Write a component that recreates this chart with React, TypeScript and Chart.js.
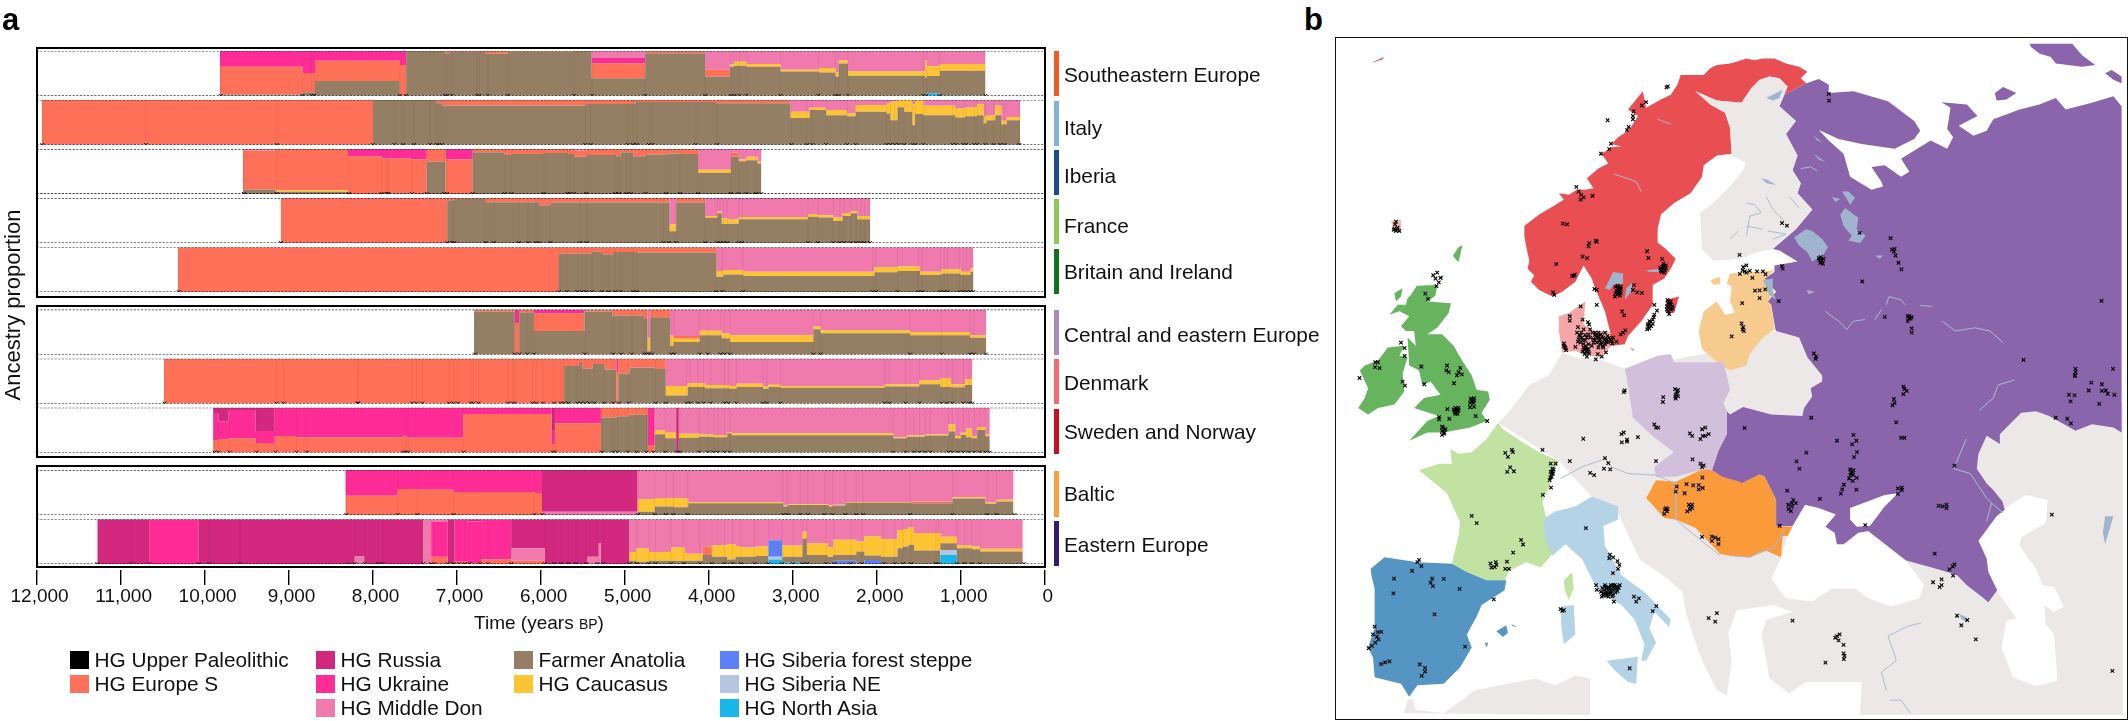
import React, { useEffect, useRef } from "react";
import { Chart, registerables } from "chart.js";

Chart.register(...registerables);

// ---------- ancestry legend ----------
const LEGEND_COLUMNS: [string, string][][] = [
  [["HG Upper Paleolithic", "#000000"], ["HG Europe S", "#FF7058"]],
  [["HG Russia", "#D2287F"], ["HG Ukraine", "#FF2C98"], ["HG Middle Don", "#F07AAE"]],
  [["Farmer Anatolia", "#947F64"], ["HG Caucasus", "#FFC433"]],
  [["HG Siberia forest steppe", "#5B80F8"], ["HG Siberia NE", "#B5C6E0"], ["HG North Asia", "#19B6EE"]],
];

// column of each tuple below: start year BP, then these proportions
const TUPLE_COLUMNS = ["farmer", "caucasus", "europeS", "ukraine", "don", "russia", "sibFS", "sibNE", "nAsia"];
// stacking from bottom to top
const STACK_ORDER: [string, string][] = [
  ["nAsia", "#19B6EE"],
  ["sibNE", "#B5C6E0"],
  ["sibFS", "#5B80F8"],
  ["farmer", "#947F64"],
  ["caucasus", "#FFC433"],
  ["europeS", "#FF7058"],
  ["ukraine", "#FF2C98"],
  ["don", "#F07AAE"],
  ["russia", "#D2287F"],
];

// ---------- ancestry per region: [year BP, farmer, caucasus, europeS, ukraine, don, russia, sibFS, sibNE, nAsia] ----------
const seEurope = [
  [9820, .03, 0, .62, .35], [8835, .08, 0, .43, .49], [8686, .33, 0, .45, .22], [7676, 0, 0, .69, .31], [7601, 1],
  [7144, .95, 0, .05], [7080, .98, 0, .02], [6654, .94, 0, .06], [6388, .985, 0, .015], [5606, 1],
  [5393, .39, 0, .33, .13, .15], [4755, .95, 0, .05], [4041, .43, 0, .16, 0, .41], [3747, .65, .05, 0, 0, .30],
  [3694, .67, .09, 0, 0, .24], [3550, .65, .06, 0, 0, .29], [3145, .54, .04, 0, 0, .42], [2687, .52, .10, 0, 0, .38],
  [2491, .43, .10, 0, 0, .47], [2452, .72, .07, 0, 0, .21], [2341, .45, .09, 0, 0, .46], [1425, .40, .40, 0, 0, .20],
  [1406, .38, .22, 0, 0, .34, 0, 0, 0, .06], [1249, .55, .15, 0, 0, .29, 0, 0, 0, .01], [706],
];
const italy = [
  [11937, 0, 0, 1], [7995, 1], [7239, .93, 0, .07], [7176, .88, 0, .12], [5460, .91, 0, .09], [4871, .955, 0, .045],
  [3910, .93, 0, .07], [3027, .60, .14, 0, 0, .26], [2799, .78, .05, 0, 0, .17], [2602, .66, .12, 0, 0, .22],
  [2354, .64, .06, 0, 0, .30], [2249, .74, .15, 0, 0, .11], [1883, .70, .22, 0, 0, .08], [1837, .55, .41, 0, 0, .04],
  [1752, .84, .16], [1674, .74, .26], [1576, .44, .46, 0, 0, .10], [1543, .69, .31], [1445, .66, .21, 0, 0, .13],
  [1066, .61, .20, 0, 0, .19], [949, .64, .20, 0, 0, .16], [804, .66, .25, 0, 0, .09], [726, .48, .15, 0, 0, .37],
  [693, .55, .11, 0, 0, .34], [588, .66, .21, 0, 0, .13], [516, .46, .08, 0, 0, .46], [451, .55, .07, 0, 0, .38], [294],
];
const iberia = [
  [9543, .10, 0, .86, 0, .04], [9155, .05, .03, .92], [8293, 0, 0, .84, .16], [7894, .01, 0, .78, .21], [7543, 0, 0, .77, .23],
  [7356, .72, 0, .28], [7133, 0, 0, .77, .23], [6808, .93, 0, .07], [6431, .87, 0, .13], [6346, .89, 0, .11],
  [5963, .91, 0, .09], [5670, .89, 0, .11], [5601, .83, 0, .13, 0, .04], [5457, .87, 0, .13], [5101, .84, 0, .16],
  [5047, .93, 0, .07], [4899, .84, 0, .16], [4750, .88, 0, .12], [4500, .90, 0, .10], [4335, .89, 0, .11],
  [4126, .47, .07, 0, 0, .46], [3734, .83, 0, .09, 0, .08], [3642, .73, .04, 0, 0, .23], [3550, .75, .08, 0, 0, .17],
  [3420, .68, .04, 0, 0, .28], [3374],
];
const france = [
  [9091, 0, 0, .985, .015], [7112, .95, 0, .05], [7026, .98, 0, .02], [6654, .91, 0, .09], [6016, .84, 0, .16],
  [5883, .90, 0, .10], [4466, .26, .15, 0, 0, .59], [4387, .90, 0, .10], [4041, .56, .04, 0, 0, .40], [3897, .66, .04, 0, 0, .30],
  [3845, .42, .13, 0, 0, .45], [3779, .43, .10, 0, 0, .47], [3642, .53, .05, 0, 0, .42], [2818, .585, .06, 0, 0, .355],
  [2700, .57, .05, 0, 0, .38], [2517, .49, .08, 0, 0, .43], [2406, .60, .07, 0, 0, .33], [2308, .66, .05, 0, 0, .29],
  [2230, .53, .07, 0, 0, .40], [2079],
];
const britain = [
  [10320, 0, 0, 1], [5782, .86, 0, .14], [5388, .90, 0, .10], [5271, .84, 0, .16], [5138, .89, 0, .11], [4856, .88, 0, .12],
  [3910, .34, .13, 0, 0, .53], [3825, .39, .10, 0, 0, .51], [3590, .355, .095, 0, 0, .55], [2027, .44, .11, 0, 0, .45],
  [1752, .47, .10, 0, 0, .43], [1484, .38, .07, 0, 0, .55], [1229, .415, .09, 0, 0, .495], [1000, .38, .07, 0, 0, .55],
  [883, .45, .08, 0, 0, .47], [850],
];
const centralEurope = [
  [6793, .955, 0, .045], [6308, 0, 0, .70, .30], [6255, .94, 0, .06], [6080, .52, 0, .395, .085], [5478, .955, 0, .045],
  [5148, .87, 0, .13], [4766, .79, 0, .21], [4728, .07, .30, 0, 0, .63], [4696, .83, 0, .17], [4459, .19, .23, 0, 0, .58],
  [4420, .28, .07, .06, 0, .59], [4106, .43, .10, 0, 0, .47], [3845, .36, .11, 0, 0, .53], [3747, .28, .15, 0, 0, .57],
  [2753, .56, .07, 0, 0, .37], [2668, .47, .07, 0, 0, .46], [1602, .43, .07, 0, 0, .50], [889, .37, .06, 0, 0, .57], [699],
];
const denmark = [
  [10485, 0, 0, 1], [5721, .835, 0, .165], [5545, .90, 0, .10], [5499, .78, 0, .22], [5381, .88, 0, .12], [5238, .76, 0, .24],
  [5100, 0, 0, .70, .30], [5074, .67, 0, .33], [4943, .80, 0, .20], [4642, .77, 0, .23], [4512, .18, .21, 0, 0, .61],
  [4250, .37, .08, 0, 0, .55], [4041, .34, .07, 0, 0, .59], [3747, .33, .06, 0, 0, .61], [3668, .37, .07, 0, 0, .56],
  [3354, .33, .05, 0, 0, .62], [3289, .37, .05, 0, 0, .58], [3145, .35, .04, 0, 0, .61], [1903, .38, .05, 0, 0, .57],
  [1491, .43, .09, 0, 0, .48], [1242, .37, .19, 0, 0, .44], [1118, .36, .07, 0, 0, .57], [948, .41, .13, 0, 0, .46], [863],
];
const swedenNorway = [
  [9899, 0, 0, .28, .60, 0, .12], [9836, 0, 0, .30, .39, 0, .31], [9713, 0, 0, .32, .63, 0, .05], [9394, 0, 0, .21, .27, 0, .52],
  [9165, 0, 0, .37, .63], [8915, 0, 0, .34, .66], [7638, 0, 0, .39, .61], [7601, 0, 0, .33, .67], [6920, 0, 0, .86, .14],
  [5872, 0, 0, .19, .31, 0, .50], [5830, 0, 0, .65, .35], [5282, .78, 0, .22], [5095, .81, 0, .19], [4952, .84, 0, .16],
  [4723, 0, 0, .17, .83], [4642, .41, .08, 0, 0, .51], [4518, .32, .12, 0, 0, .56], [4387, 0, 0, 0, 0, 0, 1],
  [4355, .33, .09, 0, 0, .58], [4119, .35, .05, 0, 0, .60], [3943, .34, .05, 0, 0, .61], [3779, .43, .03, 0, 0, .54],
  [3726, .385, .045, 0, 0, .57], [1804, .32, .02, 0, 0, .66], [1641, .35, .03, 0, 0, .62], [1425, .38, .02, 0, 0, .60],
  [1144, .47, .16, 0, 0, .37], [1066, .32, .04, 0, 0, .64], [1000, .39, .05, 0, 0, .56], [935, .34, .20, 0, 0, .46],
  [869, .32, .05, 0, 0, .63], [804, .50, .07, 0, 0, .43], [706, .36, .04, 0, 0, .60], [654],
];
const baltic = [
  [8325, 0, 0, .43, .57], [7702, 0, 0, .58, .42], [7468, 0, 0, .56, .44], [7037, 0, 0, .51, .49], [6074, 0, 0, .49, .51],
  [5984, 0, 0, 0, 0, .07, .93], [4845, .07, .28, 0, 0, .65], [4642, .19, .19, 0, 0, .62], [4414, .17, .20, 0, 0, .63],
  [4244, .26, .03, 0, 0, .71], [3112, .19, .02, 0, 0, .79], [3060, .22, .02, 0, 0, .76], [2570, .19, .02, 0, 0, .79],
  [2524, .21, .02, 0, 0, .77], [2373, .27, .02, 0, 0, .71], [1602, .26, 0, .04, 0, .70], [1098, .365, .03, 0, 0, .605],
  [706, .25, .03, 0, 0, .72], [575, .30, .04, 0, 0, .66], [372],
];
const easternEurope = [
  [11277, 0, 0, 0, 0, 0, 1], [10660, 0, 0, 0, 1], [10075, 0, 0, 0, 0, 0, 1], [8213, 0, 0, 0, 0, .17, .83], [8101, 0, 0, 0, 0, 0, 1],
  [7399, 0, 0, 0, 0, 1], [7303, 0, 0, .16, .79, .05], [7106, 0, 0, .02, 0, 0, .98], [7027, 0, 0, .05, .95],
  [6867, 0, 0, .02, .93, 0, .05], [6707, 0, 0, .10, .90], [6351, 0, 0, .07, 0, .28, .65], [5952, 0, 0, 0, 0, 0, 1],
  [5441, 0, 0, 0, 0, .16, .84], [5308, 0, 0, 0, 0, .46, .54], [5282, 0, 0, 0, 0, 0, 1], [4943, .07, .20, 0, 0, .73],
  [4858, .05, .30, 0, 0, .65], [4714, .07, .20, 0, 0, .73], [4446, .07, .30, 0, 0, .63], [4283, .07, .16, 0, 0, .77],
  [4074, .20, 0, .19, 0, .61], [3962, .16, .26, 0, 0, .58], [3779, .10, .34, 0, 0, .56], [3681, .16, .24, 0, 0, .60],
  [3616, .16, .21, 0, 0, .63], [3439, .18, .21, 0, 0, .61], [3289, 0, 0, 0, 0, .47, 0, .37, .06, .10],
  [3125, .13, .25, 0, 0, .59, 0, 0, 0, .03], [2883, .57, .15, 0, 0, .28], [2831, .20, .26, 0, 0, .54], [2583, .16, .21, 0, 0, .63],
  [2517, .13, .34, 0, 0, .46, 0, .07], [2243, .28, .22, 0, 0, .50], [2145, .10, .43, 0, 0, .38, 0, .09], [1948, .16, .39, 0, 0, .45],
  [1752, .35, .41, 0, 0, .24], [1687, .39, .39, 0, 0, .22], [1621, .43, .39, 0, 0, .18], [1556, .30, .39, 0, 0, .31],
  [1242, .15, .15, 0, 0, .39, 0, 0, .11, .20], [1046, .35, .06, 0, 0, .59], [869, .33, .06, 0, 0, .61], [771, .28, .06, 0, 0, .66], [261],
];

// ---------- dated samples per region (years BP) ----------
const seEuropeSamples = [9809, 8835, 8729, 8697, 7676, 7601, 7144, 7117, 7059, 6761, 6729, 6628, 6388, 5601, 5388, 4755, 4041, 3734, 3694, 3635, 3550, 3145, 2694, 2491, 2452, 2341, 1445, 1406, 1249, 706];
const italySamples = [11932, 10697, 9139, 7995, 7740, 7638, 7505, 7314, 7239, 7213, 7176, 5468, 5404, 4963, 4899, 4856, 4712, 4670, 4154, 3897, 3014, 2831, 2766, 2602, 2354, 2249, 1883, 1837, 1785, 1739, 1674, 1576, 1543, 1445, 1098, 1053, 968, 935, 837, 804, 706, 608, 529, 477, 301];
const iberiaSamples = [9532, 9144, 8282, 7894, 7835, 7814, 7532, 7356, 7149, 7117, 6808, 6425, 6346, 5963, 5681, 5654, 5601, 5457, 5112, 5069, 4978, 4925, 4750, 4505, 4340, 4126, 3734, 3642, 3550, 3439, 3374];
const franceSamples = [9091, 7112, 7053, 7026, 6654, 6558, 6260, 6149, 6058, 6016, 5883, 5526, 5452, 4537, 4473, 4393, 4041, 3897, 3864, 3825, 3779, 3642, 3603, 2818, 2700, 2517, 2439, 2386, 2308, 2243, 2190, 2145, 2079];
const britainSamples = [10309, 5782, 5686, 5564, 5510, 5457, 5388, 5271, 5191, 5111, 5047, 4899, 4856, 3910, 3838, 3590, 2046, 2007, 1752, 1504, 1458, 1242, 1196, 1157, 1013, 968, 928, 889, 850];
const centralEuropeSamples = [6782, 6308, 6255, 6159, 6080, 5473, 5138, 5042, 4914, 4766, 4739, 4712, 4675, 4446, 4409, 4106, 4008, 3858, 3812, 3747, 2753, 2668, 1602, 1229, 889, 843, 699];
const denmarkSamples = [10479, 9144, 9059, 8181, 8170, 7532, 7479, 7410, 7091, 7037, 6984, 6830, 6798, 6739, 6388, 6335, 6308, 6096, 6053, 5973, 5840, 5760, 5723, 5670, 5564, 5521, 5473, 5420, 5361, 5244, 5138, 5069, 4952, 4632, 4510, 4260, 4218, 4126, 4061, 3975, 3812, 3766, 3668, 3354, 3308, 3145, 1903, 1850, 1654, 1491, 1229, 1164, 1098, 968, 902, 863];
const swedenNorwaySamples = [9883, 9836, 9703, 9378, 9155, 8905, 8782, 7638, 7601, 7575, 6920, 5856, 5830, 5271, 5138, 5085, 4963, 4856, 4739, 4659, 4516, 4377, 4340, 4113, 4008, 3943, 3890, 3812, 3747, 1804, 1654, 1556, 1491, 1425, 1360, 1144, 1098, 1033, 968, 902, 837, 771, 706, 654];
const balticSamples = [8314, 7702, 7468, 7037, 6074, 5979, 4840, 4643, 4510, 4420, 4250, 3112, 3060, 2910, 2818, 2622, 2524, 2373, 2243, 2164, 1602, 1098, 686, 575, 359];
const easternEuropeSamples = [11277, 10873, 10655, 10070, 9942, 9580, 8293, 8213, 8091, 7931, 7878, 7399, 7303, 7266, 7106, 7037, 6973, 6904, 6846, 6718, 6628, 6351, 5952, 5840, 5760, 5670, 5580, 5457, 5324, 5255, 4941, 4856, 4712, 4632, 4446, 4298, 4106, 3962, 3812, 3714, 3616, 3452, 3289, 3125, 2995, 2883, 2831, 2602, 2504, 2308, 2177, 1916, 1785, 1687, 1589, 1295, 1262, 1046, 955, 869, 771, 248];

const REGIONS = [
  { name: "Southeastern Europe", color: "#F15A22", rows: seEurope, samples: seEuropeSamples },
  { name: "Italy", color: "#7FB3D8", rows: italy, samples: italySamples },
  { name: "Iberia", color: "#1D4A8F", rows: iberia, samples: iberiaSamples },
  { name: "France", color: "#8CC85A", rows: france, samples: franceSamples },
  { name: "Britain and Ireland", color: "#14701E", rows: britain, samples: britainSamples },
  { name: "Central and eastern Europe", color: "#A88BC0", rows: centralEurope, samples: centralEuropeSamples },
  { name: "Denmark", color: "#F56C70", rows: denmark, samples: denmarkSamples },
  { name: "Sweden and Norway", color: "#C8101E", rows: swedenNorway, samples: swedenNorwaySamples },
  { name: "Baltic", color: "#F8A03C", rows: baltic, samples: balticSamples },
  { name: "Eastern Europe", color: "#35196E", rows: easternEurope, samples: easternEuropeSamples },
];

// ---------- map shapes, in map units; tiles N/S and W/E offset by these ----------
type P = number[][];
const EAST = 1170;
const SOUTH = 1014;
const shift = (pts: P, dx: number, dy: number): P => pts.map(([x, y]) => [x + dx, y + dy]);
const NE = (p: P) => shift(p, EAST, 0);
const SW = (p: P) => shift(p, 0, SOUTH);
const SE = (p: P) => shift(p, EAST, SOUTH);

const LAND = "#ECE8E8";
const PURPLE = "#8A65AB";
const RED = "#E94E52";
const GREEN = "#66B45E";
const PALE_GREEN = "#C2E2A2";
const BLUE = "#5595C4";
const PALE_BLUE = "#B5D3E6";
const PEACH = "#F7CB8D";
const LAKE = "#A0B4CE";

const landMain: P = [[465,1159],[500,1124],[560,1044],[620,1014],[660,945],[700,960],[770,965],[850,995],[1090,950],[1230,900],[1310,880],[1380,900],[1405,960],[1460,1014],[1600,1100],[2364,1100],[2364,2049],[1565,2049],[1570,1949],[1400,1949],[1350,1984],[1290,1939],[1265,1804],[1280,1760],[1360,1735],[1300,1714],[1230,1725],[1190,1730],[1165,1800],[1175,1890],[1160,1990],[1130,1974],[1090,1894],[1060,1814],[1035,1734],[1025,1674],[980,1634],[895,1574],[850,1479],[830,1434],[750,1384],[650,1276]];
const landAfrica: P = SW([[180,1030],[190,990],[205,985],[215,1020],[300,1030],[395,960],[520,935],[580,925],[640,945],[700,915],[745,925],[745,1035]]);
const finland: P = [[1065,150],[1130,178],[1205,185],[1235,140],[1260,115],[1290,105],[1320,110],[1345,135],[1335,160],[1320,195],[1370,240],[1340,280],[1375,345],[1360,390],[1385,430],[1375,460],[1420,510],[1370,570],[1300,630],[1250,640],[1200,660],[1120,665],[1085,630],[1080,520],[1120,490],[1170,440],[1215,385],[1215,365],[1175,345],[1170,260],[1155,215],[1110,190]];
const blackSea: P = SE([[190,460],[228,395],[270,405],[322,425],[290,462],[318,480],[325,515],[345,515],[390,480],[420,475],[490,530],[535,565],[590,640],[575,680],[490,705],[420,680],[380,650],[310,650],[250,690],[170,680],[125,620],[155,555],[175,490]]);
const caspian: P = SE([[755,505],[810,430],[835,405],[900,365],[965,380],[960,450],[885,495],[880,520],[930,590],[950,640],[985,645],[1015,705],[985,722],[955,700],[960,760],[985,790],[995,930],[930,948],[860,920],[825,830],[840,750],[870,740],[810,655],[785,600],[780,545]]);
const azov: P = SE([[365,405],[470,365],[510,360],[470,400],[425,460],[385,462],[365,440]]);
const aegean: P = SE([[30,760],[60,800],[45,850],[70,900]]);
const purple: P = [[1402,125],[1440,112],[1470,130],[1470,155],[1545,150],[1650,180],[1730,240],[1748,270],[1730,295],[1670,325],[1570,310],[1500,295],[1440,268],[1470,300],[1515,340],[1525,375],[1535,410],[1600,450],[1635,440],[1630,425],[1600,380],[1640,375],[1690,410],[1715,395],[1690,355],[1730,330],[1780,300],[1830,325],[1848,290],[1830,265],[1840,200],[1812,183],[1890,190],[1922,225],[1865,255],[1910,285],[1950,270],[1970,235],[2050,205],[2110,190],[2160,170],[2190,205],[2270,185],[2335,165],[2360,195],[2360,1189],[2335,1174],[2270,1164],[2220,1184],[2185,1164],[2140,1139],[2100,1124],[2055,1129],[2020,1164],[1990,1194],[1990,1224],[1950,1199],[1925,1254],[1920,1299],[1950,1344],[1970,1364],[1998,1399],[2005,1424],[1980,1444],[1925,1519],[1950,1574],[1955,1614],[1982,1669],[1955,1706],[1935,1689],[1890,1654],[1860,1624],[1830,1614],[1780,1599],[1705,1579],[1660,1544],[1590,1489],[1560,1494],[1515,1529],[1495,1529],[1488,1494],[1460,1476],[1492,1439],[1440,1419],[1398,1409],[1360,1474],[1310,1474],[1310,1394],[1275,1324],[1260,1317],[1205,1344],[1170,1334],[1145,1324],[1115,1304],[1135,1244],[1160,1194],[1160,1124],[1170,1134],[1210,1111],[1295,1134],[1390,1139],[1395,1114],[1420,1079],[1415,1054],[1450,1034],[1450,1015],[1405,960],[1380,900],[1310,880],[1308,875],[1295,800],[1285,790],[1310,760],[1275,720],[1305,700],[1305,680],[1375,668],[1320,635],[1300,630],[1370,570],[1420,510],[1375,460],[1385,430],[1360,390],[1375,345],[1340,280],[1370,240],[1320,195],[1335,160]];
const purpleTop: P = NE([[910,5],[1040,5],[1070,40],[1110,70],[1070,75],[990,65],[975,45],[940,35],[915,15]]);
const purpleIsle: P = NE([[805,155],[830,137],[870,155],[840,175],[810,178]]);
const purpleCorner: P = NE([[1140,95],[1160,85],[1190,105],[1190,125],[1165,115]]);
const scandinavia: P = [[545,560],[590,525],[640,495],[665,480],[650,460],[680,465],[705,450],[730,450],[755,445],[735,415],[770,385],[800,370],[780,340],[810,320],[840,318],[810,310],[830,290],[860,270],[875,250],[890,225],[860,205],[905,150],[915,200],[960,175],[990,160],[1010,130],[1020,100],[1050,100],[1090,100],[1110,80],[1130,70],[1170,65],[1190,60],[1220,50],[1245,55],[1270,50],[1305,50],[1340,65],[1380,75],[1405,90],[1385,110],[1402,125],[1335,160],[1345,135],[1320,110],[1290,105],[1260,115],[1235,140],[1205,185],[1130,178],[1065,150],[1110,190],[1155,215],[1170,260],[1175,340],[1130,345],[1090,375],[1085,410],[1050,460],[1000,490],[960,525],[950,570],[950,610],[975,630],[1005,660],[990,690],[970,720],[935,740],[935,800],[900,850],[860,895],[850,920],[810,925],[805,880],[790,820],[760,750],[750,720],[725,680],[700,730],[660,760],[630,775],[590,755],[565,730],[575,710],[555,690],[560,665],[550,620],[545,590]];
const gotland: P = [[975,825],[975,785],[1015,775],[1000,825]];
const svalbard: P = [[82,62],[118,45],[115,52],[85,62]];
const faroe: P = [[140,545],[170,540],[170,580],[150,580]];
const denmarkLand: P = [[650,835],[680,825],[730,790],[725,860],[755,880],[800,880],[810,925],[775,960],[720,950],[700,940],[660,945],[650,880]];
const bornholm: P = [[865,930],[880,935],[875,942]];
const greatBritain: P = [[218,742],[280,740],[275,772],[252,790],[322,795],[315,825],[280,870],[250,890],[295,890],[330,925],[350,960],[385,1015],[400,1059],[435,1064],[440,1089],[415,1129],[430,1154],[380,1174],[300,1189],[250,1189],[195,1214],[250,1154],[285,1139],[210,1114],[240,1084],[290,1074],[260,1034],[235,1044],[225,1000],[195,985],[190,900],[215,925],[210,880],[185,880],[170,865],[195,835],[165,820],[185,800],[190,780],[200,770]];
const ireland: P = [[100,970],[130,930],[180,925],[165,955],[190,960],[175,1010],[180,1064],[150,1104],[100,1114],[70,1134],[40,1114],[60,1084],[70,1054],[45,1000],[60,985]];
const hebrides: P = [[150,765],[175,750],[170,775],[155,790]];
const skye: P = [[160,800],[185,800],[165,820],[135,830]];
const shetland: P = [[345,625],[357,618],[345,670],[335,660],[328,650]];
const orkney: P = [[285,715],[300,710],[295,725]];
const franceLand: P = SW([[465,145],[480,165],[540,205],[590,235],[650,262],[635,290],[625,330],[600,385],[610,430],[605,480],[635,540],[595,585],[550,570],[500,595],[485,625],[430,625],[370,600],[325,575],[345,490],[350,450],[310,360],[225,290],[285,270],[325,270],[320,225],[345,240],[385,235],[430,195]]);
const corsica: P = SW([[665,625],[690,600],[695,650],[680,685],[668,655]]);
const iberiaLand: P = SW([[78,590],[120,555],[220,570],[325,575],[370,600],[430,625],[490,625],[485,655],[415,700],[400,735],[370,790],[385,830],[350,890],[300,940],[220,945],[195,980],[170,940],[90,920],[85,860],[70,830],[90,770],[90,650],[80,610]]);
const mallorca: P = SW([[460,780],[490,762],[495,785],[480,798]]);
const menorca: P = SW([[505,758],[525,768],[510,765]]);
const ibiza: P = SW([[425,815],[435,815],[430,830]]);
const italyLand: P = SW([[605,435],[640,415],[700,400],[750,370],[830,400],[830,440],[785,460],[790,520],[840,610],[915,665],[990,745],[985,768],[940,720],[925,770],[945,815],[915,870],[900,870],[910,820],[880,745],[840,700],[770,660],[720,560],[670,515],[630,550],[605,490]]);
const sicily: P = SW([[795,870],[890,858],[885,940],[860,935],[820,900]]);
const sardinia: P = SW([[655,705],[695,700],[700,790],[665,820],[658,770]]);
const balticStates: P = [[1160,735],[1170,705],[1305,695],[1275,720],[1305,760],[1285,790],[1295,800],[1305,875],[1270,900],[1230,950],[1220,985],[1170,1000],[1130,975],[1085,935],[1075,880],[1090,820],[1130,790],[1155,830],[1185,825],[1170,790],[1175,745]];
const saaremaa: P = [[1110,725],[1140,715],[1140,735],[1120,740]];
const polandCzech: P = [[850,995],[950,955],[990,950],[1000,975],[1150,975],[1160,1014],[1170,1059],[1150,1099],[1160,1124],[1160,1194],[1135,1244],[1115,1304],[1085,1302],[1005,1324],[945,1324],[940,1294],[1000,1249],[940,1204],[875,1144],[855,1014]];
const hungaryRomania: P = [[915,1389],[945,1334],[1005,1339],[1085,1302],[1115,1304],[1145,1324],[1200,1339],[1205,1344],[1260,1317],[1275,1324],[1310,1394],[1310,1474],[1360,1476],[1345,1504],[1330,1504],[1325,1569],[1280,1549],[1230,1569],[1170,1564],[1140,1559],[1065,1479],[1005,1454],[970,1449],[925,1399]];
const ladoga: P = NE([[195,595],[230,570],[250,575],[280,600],[298,625],[285,645],[250,668],[235,640],[210,620]]);
const onega: P = NE([[335,525],[350,505],[390,535],[385,570],[412,590],[395,612],[360,605],[370,590],[345,560]]);
const lakeA: P = NE([[340,455],[360,455],[380,475],[365,495],[350,470]]);
const lakeB: P = NE([[310,472],[335,478],[320,487]]);
const lakeC: P = NE([[255,340],[290,365],[270,358]]);
const lakeD: P = NE([[255,285],[280,305],[265,300]]);
const lakeE: P = NE([[440,650],[465,650],[455,660]]);
const lakeF: P = NE([[232,755],[258,760],[240,768]]);
const peipus: P = NE([[100,725],[130,720],[130,760],[140,785],[120,770]]);
const inari: P = NE([[110,170],[160,145],[150,170],[130,178]]);
const saimaa: P = NE([[95,415],[115,420],[140,435],[110,430]]);
const vanern: P = [[790,750],[815,700],[845,705],[845,735],[815,740],[805,755]];
const vattern: P = [[850,785],[855,750],[875,730],[870,760]];
const malaren: P = [[915,695],[960,690],[980,700],[925,700]];
const sevan: P = SE([[695,728],[715,735],[722,752],[705,745]]);
const aral: P = SE([[1140,430],[1165,430],[1140,515],[1133,480]]);

const MAP_SHAPES: [P, string][] = [
  [landMain, LAND], [landAfrica, LAND], [finland, LAND], [blackSea, "#FFFFFF"], [caspian, "#FFFFFF"], [aegean, "#FFFFFF"],
  [aral, LAKE], [sevan, LAKE],
  [purple, PURPLE], [azov, "#FFFFFF"], [purpleTop, PURPLE], [purpleIsle, PURPLE], [purpleCorner, PURPLE],
  [scandinavia, RED], [finland, LAND], [gotland, RED], [svalbard, RED], [faroe, "#F7B5B5"],
  [denmarkLand, "#F6A6A6"], [bornholm, "#F6A6A6"],
  [greatBritain, GREEN], [ireland, GREEN], [hebrides, GREEN], [skye, GREEN], [shetland, GREEN], [orkney, GREEN],
  [franceLand, PALE_GREEN], [corsica, PALE_GREEN],
  [iberiaLand, BLUE], [mallorca, BLUE], [menorca, BLUE], [ibiza, BLUE],
  [italyLand, PALE_BLUE], [sicily, PALE_BLUE], [sardinia, PALE_BLUE],
  [balticStates, PEACH], [saaremaa, PEACH],
  [polandCzech, "#D2BFDC"],
  [hungaryRomania, "#FB9A3B"],
  [ladoga, LAKE], [onega, LAKE], [lakeA, LAKE], [lakeB, LAKE], [lakeC, LAKE], [lakeD, LAKE], [lakeE, LAKE], [lakeF, LAKE],
  [peipus, LAKE], [inari, LAKE], [saimaa, LAKE], [vanern, LAKE], [vattern, LAKE], [malaren, LAKE],
];

const MAP_RIVERS: P[] = [
  SW([[655,315],[720,280],[790,255],[810,280],[860,300],[945,305],[1005,330],[1005,440],[1065,490],[1140,550]]),
  SE([[0,550],[60,555],[110,530],[130,530],[165,470]]),
  SE([[865,15],[815,30],[800,70],[757,108]]),
  SE([[718,195],[680,285],[730,300],[780,375],[795,390],[780,445]]),
  SE([[795,390],[830,420]]),
  SE([[580,755],[540,765],[480,795],[500,850],[505,870],[460,905],[475,960]]),
  SE([[485,990],[520,990],[548,1030]]),
  NE([[290,820],[330,850],[355,875],[375,850],[410,845]]),
  NE([[440,845],[460,815]]),
  NE([[475,800],[483,775],[520,785],[532,800]]),
  NE([[578,802],[615,805]]),
  NE([[645,850],[685,880],[745,870],[790,880],[830,915]]),
  NE([[215,385],[245,380],[265,392]]),
  NE([[50,490],[75,495],[95,520],[60,530],[50,590]]),
  NE([[110,470],[130,510],[165,545]]),
  NE([[180,470],[210,505]]),
  NE([[50,560],[100,570]]),
  NE([[115,575],[170,585],[130,600]]),
  NE([[0,600],[25,575]]),
  [[818,402],[885,425],[900,455]],
  [[950,235],[990,250]],
];

const samplesNW: P = [
  [977,138],[981,135],[915,183],[902,193],[877,211],[875,225],[875,235],[798,238],[862,258],[857,268],[808,309],[803,326],[778,340],[703,441],[710,455],[718,465],[725,473],[716,480],[752,468],[662,553],[675,555],[762,605],[765,608],[742,612],[740,622],[722,653],[736,658],[642,676],[698,708],[690,712],[695,712],[632,762],[636,770],[758,752],[765,755],
  [918,637],[922,657],[964,660],[968,675],[975,680],[965,690],[960,695],[972,695],[965,685],[958,688],[968,682],[975,688],[962,700],[970,702],
  [822,745],[830,750],[838,745],[825,758],[835,760],[830,768],[820,775],[835,772],[878,740],[875,755],[888,762],[902,764],[828,742],[832,755],[822,765],[838,752],[828,762],[838,765],
  [765,800],[842,820],[848,832],[838,890],[852,878],[845,885],
  [940,800],[948,818],[940,830],[935,845],[925,850],[920,860],[930,865],[918,875],[925,872],[935,858],[930,852],[925,858],[938,838],[922,866],
  [980,785],[985,790],[990,800],[978,805],[990,815],[982,820],[995,805],[985,828],[982,795],[990,790],[985,808],[978,815],[996,812],[987,798],
  [716,805],[683,835],[683,848],[722,845],[738,853],[742,860],[708,868],[725,875],[705,885],[712,892],[720,900],[730,908],[740,890],[752,885],[760,892],[770,885],[778,890],[790,885],[798,895],[745,900],[755,905],[765,900],[775,905],[785,900],[795,905],[805,905],[815,900],[825,912],[812,918],[715,915],[725,920],[740,920],[750,925],[765,915],[780,915],[790,920],[800,915],[708,912],[700,928],[730,935],[738,945],[728,950],[735,958],[768,950],[780,958],[793,945],[762,966],[665,918],[668,928],[672,938],[710,905],[745,875],[755,915],[770,930],[785,930],[732,925],
  [768,895],[772,910],[780,898],[788,908],[775,920],[760,908],[783,925],[793,912],[803,900],[810,910],[718,885],[722,908],[735,900],[715,895],[730,892],[725,930],[735,935],[722,942],[740,935],[732,942],[742,948],[728,938],[665,925],[670,932],[760,885],[770,895],
  [155,547],[152,555],[150,568],[158,570],[165,575],[155,575],[148,572],[160,565],
  [268,710],[280,702],[290,718],[275,720],[285,732],[278,743],[244,766],[252,782],
  [170,915],[181,932],[181,956],[92,975],[100,975],[91,990],[105,993],[232,988],[310,985],[308,1000],[315,1005],[350,992],[345,1005],[340,1015],[355,1012],
];
const samplesSW: P = [
  [44,9],[175,20],[182,32],[241,28],[331,25],[385,75],[392,70],[380,85],[390,85],[392,97],[380,98],[311,104],[335,100],[345,100],[330,105],[340,110],[335,118],[342,118],[286,128],[286,135],[317,133],[397,125],[432,140],[295,157],[305,165],[295,170],[300,178],[295,182],
  [338,103],[333,112],[345,108],[340,103],[386,80],[382,72],[393,78],[298,160],[302,175],
  [487,237],[507,228],[510,235],[495,249],[502,281],[493,295],[513,293],[600,228],[625,270],[640,270],[630,285],[625,295],[632,300],[628,310],[622,320],[626,343],[601,365],[385,429],[400,451],[535,502],[541,516],[511,541],[442,574],[458,570],[460,578],[455,585],[445,586],[492,568],[487,590],[498,590],[634,288],[628,300],[624,312],[630,295],
  [225,563],[220,570],[232,582],[204,596],[149,620],[147,665],[265,620],[260,632],[267,643],[300,621],[348,651],[272,729],[90,766],[85,790],[100,783],[110,782],[97,797],[102,805],[92,815],[82,825],[72,832],[110,880],[122,875],[135,872],[227,881],[243,892],[243,903],[233,916],[452,683],[365,827],
  [655,713],[665,716],[660,718],
  [732,466],[805,547],[815,555],[803,558],[828,567],[834,578],[830,590],[814,603],[763,640],[765,654],[790,640],[800,645],[810,650],[795,660],[785,665],[780,675],[800,675],[815,670],[825,650],[835,640],[820,640],[795,650],[805,660],[878,675],[893,680],[885,690],[946,704],[935,719],[865,893],[817,690],
  [782,648],[788,655],[792,668],[800,655],[806,668],[812,660],[818,650],[822,662],[828,658],[832,648],[785,672],[795,672],[808,640],[815,640],[778,660],[790,645],[803,650],[826,644],[812,674],[798,664],
  [850,47],[847,52],[1003,43],[1010,50],[1005,60],[1012,65],[1005,72],[967,67],[966,82],[940,150],[945,160],[952,160],[1048,178],[1055,185],[1085,165],[1095,160],[1087,185],[1105,180],[1095,185],[1080,195],[847,175],[840,180],[841,205],[857,197],[857,203],[890,189],[724,194],[683,262],[945,262],[1056,257],[1080,270],[1085,280],[1090,275],[790,253],[800,268],[787,285],[806,287],[745,298],[757,305],[1008,56],[1004,66],[1012,45],
  [1086,312],[1038,332],[1058,336],[1075,335],[1087,344],[1075,348],[1008,340],[1005,355],[1032,360],[975,405],[978,415],[970,423],[1045,395],[1055,405],[1040,415],[1085,493],[1115,492],[1125,495],[1135,500],[1115,505],[1135,515],[1050,400],[1048,410],[1055,395],[972,410],[980,408],
  [1105,740],[1130,725],[1125,751],
];
const samplesNE: P = [
  [300,158],[301,178],[158,551],[173,559],[29,648],[394,581],[488,597],[492,632],[500,630],[498,638],[503,650],[512,672],[521,692],[402,729],[148,789],[1129,788],[470,837],[545,835],[548,842],[540,850],[552,872],[552,885],[892,968],[1164,995],[1050,995],[1050,1005],[1048,1015],[255,948],[262,958],[260,965],[275,655],[280,665],[272,665],[282,675],[158,682],[160,690],[275,672],[270,658],[284,660],[544,842],[552,838],[540,835],
  [30,706],[40,685],[38,695],[50,680],[50,702],[60,697],[68,718],[82,698],[100,698],[108,707],[76,757],[90,756],[107,753],[90,780],[37,795],[35,857],[40,868],[42,880],[5,896],[45,698],[38,875],
];
const samplesSE: P = [
  [1048,3],[1098,23],[1130,28],[1090,47],[1130,48],[1142,47],[1148,57],[1168,60],[1030,60],[1047,62],[1035,80],[1122,88],[527,35],[530,42],[537,48],[527,58],[498,73],[500,85],[494,92],[505,144],[247,130],[44,161],[990,130],[1025,133],[1036,147],[375,182],[520,191],[530,191],[325,200],[384,200],[371,211],[232,236],[386,235],[377,250],[202,263],[211,285],[682,276],[365,287],[375,290],[370,300],[362,315],[385,313],[373,322],[346,334],[341,348],[337,361],[384,349],[510,345],[522,350],[510,362],[174,352],[273,377],[192,380],[177,395],[188,400],[200,390],[178,408],[185,414],[634,398],[646,400],[658,395],[658,405],[411,457],[151,459],[622,544],[682,577],[677,583],[667,592],[678,611],[643,622],[617,631],[643,640],[637,646],[978,425],[690,733],[721,746],[703,762],[747,805],[190,748],[325,795],[333,790],[320,800],[330,808],[345,822],[345,848],[348,855],[346,865],[290,876],[1162,901],[368,296],[374,304],[366,305],[188,390],[522,343],
];
const mapSamples: P = [...samplesNW, ...SW(samplesSW), ...NE(samplesNE), ...SE(samplesSE)];

// ---------- layout ----------
const CHART_W = 1100;
const CHART_H = 650;
const FRAMES = [[47, 298], [305, 458], [465, 568]];
const ROW_WEIGHT = 44.8;
const GAP_WEIGHT = 4.2;
const PANEL_GAP_WEIGHT = 17.6;
const LABEL_Y = [75, 128, 176, 226, 272, 335, 383, 432, 494, 545];
const BAR_Y = [[51, 96], [101, 146], [150, 195], [199, 244], [249, 294], [310, 355], [359, 404], [409, 454], [471, 517], [521, 566]];
const FONT = "'Liberation Sans', Arial, sans-serif";

function buildRowDatasets(regionIndex: number) {
  const region = REGIONS[regionIndex];
  const yAxisID = `row${regionIndex}`;
  const datasets: any[] = [];
  const rows = region.rows.map((r: number[], i: number) => {
    const source = r.length > 1 ? r : region.rows[i - 1];
    const values = TUPLE_COLUMNS.map((_, c) => source[c + 1] || 0);
    const total = values.reduce((a, b) => a + b, 0);
    return { year: r[0], values: values.map((v) => v / total) };
  });
  let first = true;
  STACK_ORDER.forEach(([key, color]) => {
    const col = TUPLE_COLUMNS.indexOf(key);
    if (!rows.some((r: any) => r.values[col] > 0)) return;
    datasets.push({
      type: "line",
      label: `${region.name} ${key}`,
      yAxisID,
      stack: `ancestry${regionIndex}`,
      data: rows.map((r: any) => ({ x: r.year, y: r.values[col] })),
      stepped: "before",
      borderWidth: 0,
      pointRadius: 0,
      backgroundColor: color,
      borderColor: color,
      fill: first ? "origin" : "-1",
      order: 4,
    });
    first = false;
  });
  // faint vertical seams at each dated sample
  datasets.push({
    type: "line",
    yAxisID,
    data: region.samples.flatMap((t: number) => [{ x: t, y: 0 }, { x: t, y: 1 }, { x: t, y: null }]),
    borderColor: "rgba(90,50,60,0.12)",
    borderWidth: 0.8,
    pointRadius: 0,
    spanGaps: false,
    fill: false,
    order: 3,
  });
  [0, 1].forEach((edge) => {
    datasets.push({
      type: "line",
      yAxisID,
      data: [{ x: 12000, y: edge }, { x: 0, y: edge }],
      borderColor: edge ? "#333333" : "#000000",
      borderWidth: 1.1,
      borderDash: [2.2, 1.4],
      pointRadius: 0,
      fill: false,
      order: 2,
    });
  });
  datasets.push({
    type: "line",
    yAxisID,
    showLine: false,
    data: region.samples.map((t: number) => ({ x: t, y: 0 })),
    pointStyle: "crossRot",
    pointRadius: 2.6,
    pointBorderWidth: 1,
    pointBorderColor: "#000000",
    pointBackgroundColor: "#000000",
    fill: false,
    order: 1,
  });
  return datasets;
}

function buildYScales() {
  const scales: any = {};
  const hidden = { type: "linear", axis: "y", position: "left", display: false, stack: "rows", min: 0, max: 1 };
  let weight = 100;
  const add = (id: string, stackWeight: number) => {
    scales[id] = { ...hidden, stackWeight, weight: weight-- };
  };
  REGIONS.forEach((_, i) => {
    add(`row${i}`, ROW_WEIGHT);
    if (i < REGIONS.length - 1) add(`space${i}`, i === 4 || i === 7 ? PANEL_GAP_WEIGHT : GAP_WEIGHT);
  });
  add("spaceEnd", 6);
  return scales;
}

export default function App() {
  const timeRef = useRef<HTMLCanvasElement>(null);
  const mapRef = useRef<HTMLCanvasElement>(null);

  useEffect(() => {
    document.body.style.margin = "0";
    document.body.style.overflow = "hidden";

    const timeChart = new Chart(timeRef.current as HTMLCanvasElement, {
      type: "line",
      data: { datasets: REGIONS.flatMap((_, i) => buildRowDatasets(i)) },
      options: {
        animation: false,
        responsive: false,
        devicePixelRatio: 1,
        layout: { padding: { left: 36.6, right: CHART_W - 1044.7, top: 51, bottom: 0 } },
        plugins: { legend: { display: false }, tooltip: { enabled: false } },
        events: [],
        scales: {
          x: {
            type: "linear",
            reverse: true,
            min: 0,
            max: 12000,
            position: "bottom",
            afterFit: (s: any) => { s.height = CHART_H - 570; },
            border: { display: false },
            grid: { drawOnChartArea: false, drawTicks: true, tickLength: 15, color: "#000000", lineWidth: 1.4 },
            ticks: {
              stepSize: 1000,
              autoSkip: false,
              maxRotation: 0,
              padding: 0,
              labelOffset: 3,
              color: "#111111",
              font: { family: FONT, size: 19 },
              callback: (v: any) => Number(v).toLocaleString("en-US"),
            },
          },
          ...buildYScales(),
        },
      } as any,
    });

    const shapeSets = MAP_SHAPES.map(([pts, color], i) => ({
      type: "scatter",
      showLine: true,
      data: pts.map(([x, y]) => ({ x, y })),
      fill: "shape",
      backgroundColor: color,
      borderColor: color,
      borderWidth: 0,
      pointRadius: 0,
      order: 1000 - i,
    }));
    const riverSets = MAP_RIVERS.map((pts) => ({
      type: "scatter",
      showLine: true,
      data: pts.map(([x, y]) => ({ x, y })),
      fill: false,
      borderColor: "#A9BCD2",
      borderWidth: 1,
      pointRadius: 0,
      order: 10,
    }));
    const mapChart = new Chart(mapRef.current as HTMLCanvasElement, {
      type: "scatter",
      data: {
        datasets: [
          ...shapeSets,
          ...riverSets,
          {
            type: "scatter",
            data: mapSamples.map(([x, y]) => ({ x, y })),
            pointStyle: "crossRot",
            pointRadius: 2.5,
            pointBorderWidth: 1.1,
            pointBorderColor: "#000000",
            order: 1,
          },
        ],
      },
      options: {
        animation: false,
        responsive: false,
        devicePixelRatio: 1,
        layout: { padding: 0 },
        events: [],
        plugins: { legend: { display: false }, tooltip: { enabled: false } },
        scales: {
          x: { type: "linear", min: -15, max: 2364, display: false },
          y: { type: "linear", min: 0, max: 2049, reverse: true, display: false },
        },
      } as any,
    });

    return () => {
      timeChart.destroy();
      mapChart.destroy();
    };
  }, []);

  const text: React.CSSProperties = { position: "absolute", fontFamily: FONT, color: "#111", lineHeight: 1, whiteSpace: "nowrap" };

  return (
    <div style={{ position: "relative", width: 2128, height: 721, overflow: "hidden", background: "#fff" }}>
      <canvas ref={timeRef} width={CHART_W} height={CHART_H} style={{ position: "absolute", left: 0, top: 0 }} />
      {FRAMES.map(([top, bottom], i) => (
        <div key={i} style={{ position: "absolute", left: 36, top, width: 1010, height: bottom - top, boxSizing: "border-box", border: "2.5px solid #000" }} />
      ))}
      <div style={{ ...text, left: 2, top: 4, fontSize: 31, fontWeight: 700, color: "#000" }}>a</div>
      <div style={{ ...text, left: 1304, top: 4, fontSize: 31, fontWeight: 700, color: "#000" }}>b</div>
      <div style={{ ...text, left: 13, top: 305, fontSize: 22, transform: "translate(-50%,-50%) rotate(-90deg)" }}>Ancestry proportion</div>
      <div style={{ ...text, left: 539, top: 622, fontSize: 19, transform: "translate(-50%,-50%)" }}>
        Time (years <span style={{ fontSize: 14 }}>BP</span>)
      </div>
      {REGIONS.map((r, i) => (
        <React.Fragment key={r.name}>
          <div style={{ position: "absolute", left: 1054, width: 5, top: BAR_Y[i][0], height: BAR_Y[i][1] - BAR_Y[i][0], background: r.color }} />
          <div style={{ ...text, left: 1064, top: LABEL_Y[i], fontSize: 20.8, transform: "translateY(-50%)" }}>{r.name}</div>
        </React.Fragment>
      ))}
      {LEGEND_COLUMNS.map((col, c) =>
        col.map(([label, color], k) => {
          const swatchX = [70, 316, 514, 720][c];
          const rowY = [660, 684, 708][k];
          return (
            <React.Fragment key={label}>
              <div style={{ position: "absolute", left: swatchX, top: rowY - 9, width: 19, height: 18, background: color }} />
              <div style={{ ...text, left: swatchX + 24.5, top: rowY, fontSize: 20.8, transform: "translateY(-50%)" }}>{label}</div>
            </React.Fragment>
          );
        })
      )}
      <canvas ref={mapRef} width={793} height={683} style={{ position: "absolute", left: 1335, top: 37 }} />
      <div style={{ position: "absolute", left: 1335, top: 36.5, width: 793, height: 683.5, boxSizing: "border-box", border: "1.5px solid #111" }} />
    </div>
  );
}
